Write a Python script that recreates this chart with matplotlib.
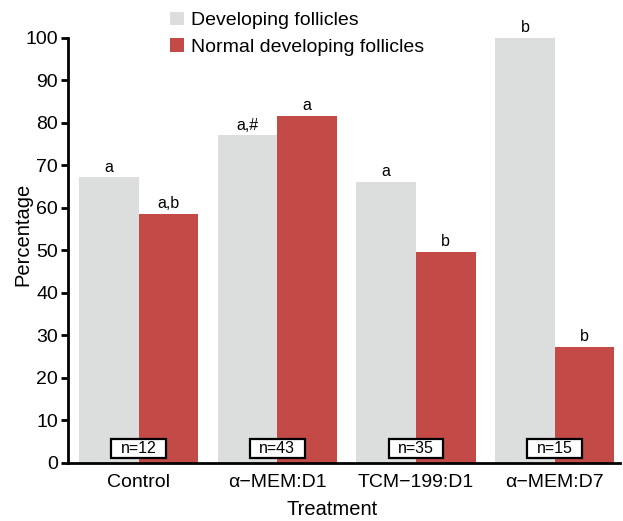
import numpy as np
import matplotlib.pyplot as plt
from matplotlib.patches import Rectangle

plt.rcParams['font.family'] = ['Liberation Sans', 'DejaVu Sans']

treatments = ['Control', 'α\u2212MEM:D1', 'TCM\u2212199:D1', 'α\u2212MEM:D7']
developing = [67.1, 77.0, 66.0, 100.0]
normal = [58.5, 81.5, 49.5, 27.2]
dev_labels = ['a', 'a,#', 'a', 'b']
norm_labels = ['a,b', 'a', 'b', 'b']
n_counts = [12, 43, 35, 15]

gray = '#dcdddd'
red = '#c34a47'

fig = plt.figure(figsize=(6.23, 5.21), dpi=100)
ax = fig.add_axes([0.109, 0.112, 0.886, 0.816])

x = np.arange(len(treatments))
w = 0.43
b1 = ax.bar(x - w / 2, developing, w, color=gray, label='Developing follicles')
b2 = ax.bar(x + w / 2, normal, w, color=red, label='Normal developing follicles')

# significance letters above bars
for bars, labels in [(b1, dev_labels), (b2, norm_labels)]:
    for rect, lab in zip(bars, labels):
        ax.annotate(lab, (rect.get_x() + rect.get_width() / 2, rect.get_height()),
                    xytext=(0, 2), textcoords='offset points', ha='center', va='bottom', fontsize=11.5)

# sample size boxes
box_w, box_lo, box_hi = 0.395, 1.15, 5.45
for xi, n in zip(x, n_counts):
    ax.add_patch(Rectangle((xi - box_w / 2, box_lo), box_w, box_hi - box_lo,
                           facecolor='white', edgecolor='black', linewidth=1.6, zorder=3))
    ax.text(xi, (box_lo + box_hi) / 2, f'n={n}', ha='center', va='center', fontsize=11.5, zorder=4)

ax.set_xlim(-0.51, 3.47)
ax.set_ylim(0, 100)
ax.set_yticks(range(0, 101, 10))
ax.set_xticks(x)
ax.set_xticklabels(treatments, fontsize=14)
ax.tick_params(axis='y', labelsize=14, width=2, length=5, pad=2)
ax.tick_params(axis='x', length=0, pad=8)
ax.spines['top'].set_visible(False)
ax.spines['right'].set_visible(False)
ax.spines['left'].set_linewidth(2)
ax.spines['bottom'].set_linewidth(2)
ax.set_ylabel('Percentage', fontsize=14.5)
ax.set_xlabel('Treatment', fontsize=14.5)
ax.yaxis.set_label_coords(-0.064, 0.536)
ax.xaxis.set_label_coords(0.478, -0.087)

fig.legend(handles=[b1, b2], loc='upper left', bbox_to_anchor=(0.254, 1.0), frameon=False,
           fontsize=14, handlelength=0.7, handleheight=0.7, handletextpad=0.4, labelspacing=0.45,
           borderaxespad=0.2)

fig.savefig('out.png', dpi=100)
